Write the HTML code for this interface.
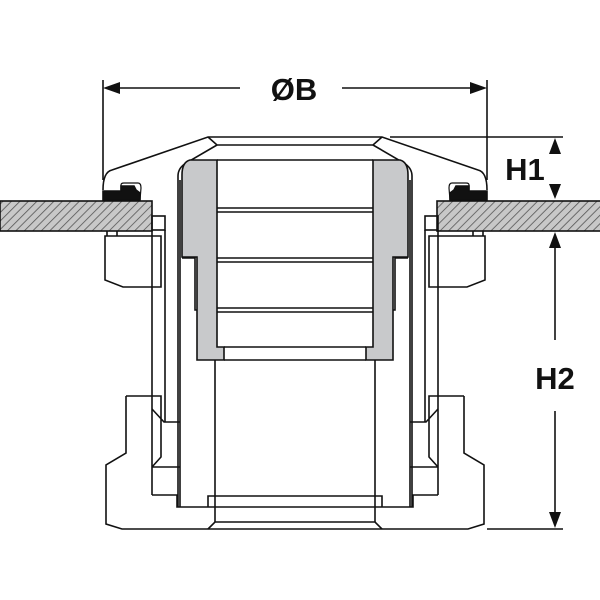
<!DOCTYPE html>
<html><head><style>body{margin:0;background:#fff}svg{display:block}</style></head><body>
<svg width="600" height="600" viewBox="0 0 600 600" xmlns="http://www.w3.org/2000/svg">
<defs>
<pattern id="h" width="6" height="6" patternUnits="userSpaceOnUse" patternTransform="rotate(45)">
<rect width="6" height="6" fill="#c8c8c8"/><line x1="0" y1="0" x2="0" y2="6" stroke="#555" stroke-width="1.6"/>
</pattern>
<g id="half" fill="none" stroke="#111" stroke-width="1.6">
  <path d="M103,190 Q103,172 112,170 L208,137 L295,137"/>
  <path d="M208,137 L217,145 L295,145"/>
  <path d="M217,145 L186,163 Q178,168 178,176 L178,507"/>
  <path d="M180,180 L180,507"/>
  <path d="M217,160 L295,160"/>
  <path d="M190,160 Q182,162 182,175 L182,257 L197,257 L197,360 L224,360 L224,347 L217,347 L217,160 Z" fill="#c8c9cb"/>
  <path d="M182,258 L195,258 L195,310 L197,310"/>
  <path d="M217,208 L295,208 M217,212 L295,212 M217,258 L295,258 M217,262 L295,262 M217,308 L295,308 M217,312 L295,312 M224,347 L295,347 M224,360 L295,360"/>
  <line x1="215" y1="360" x2="215" y2="522"/>
  <path d="M121,190 L121,185 Q121,183 124,183 L138,183 Q141,183 141,188 L140,200" stroke-width="1.2"/>
  <path d="M103,200 L103,191 L121,191 L121,186 L134,186 L136,190 L140,193 L140,200 Z" fill="#111"/>
  <rect x="152" y="216" width="13" height="14"/>
  <line x1="165" y1="230" x2="165" y2="422"/>
  <line x1="152" y1="230" x2="152" y2="495"/>
  <path d="M107,231 L107,236 M117,231 L117,236"/>
  <path d="M105,236 L161,236 L161,287 L123,287 L105,280 Z"/>
  <path d="M126,396 L161,396 L161,457 L152,467 M152,409 L164,422 L180,422 M152,467 L180,467"/>
  <path d="M126,396 L126,453 L106,465 L106,524 L122,529 L295,529"/>
  <path d="M152,495 L177,495 L177,507 L295,507 M208,529 L215,522 L295,522 M208,507 L208,496 L295,496"/>
</g>
</defs>
<rect x="0" y="201" width="152" height="30" fill="url(#h)" stroke="#111" stroke-width="1.6"/>
<rect x="437" y="201" width="170" height="30" fill="url(#h)" stroke="#111" stroke-width="1.6"/>
<use href="#half"/>
<use href="#half" transform="translate(590,0) scale(-1,1)"/>
<g stroke="#111" stroke-width="1.6" fill="#111">
  <line x1="103" y1="80" x2="103" y2="180"/>
  <line x1="487" y1="80" x2="487" y2="180"/>
  <line x1="115" y1="88" x2="240" y2="88"/>
  <line x1="342" y1="88" x2="475" y2="88"/>
  <path d="M103,88 L120,82 L120,94 Z" stroke="none"/>
  <path d="M487,88 L470,82 L470,94 Z" stroke="none"/>
  <line x1="390" y1="137" x2="563" y2="137"/>
  <line x1="487" y1="529" x2="563" y2="529"/>
  <path d="M555,138 L549,154 L561,154 Z" stroke="none"/>
  <path d="M555,199 L549,184 L561,184 Z" stroke="none"/>
  <line x1="555" y1="240" x2="555" y2="340"/>
  <path d="M555,232 L549,248 L561,248 Z" stroke="none"/>
  <line x1="555" y1="411" x2="555" y2="515"/>
  <path d="M555,528 L549,512 L561,512 Z" stroke="none"/>
</g>
<g font-family="Liberation Sans, sans-serif" font-weight="bold" fill="#111">
  <text x="294" y="100" font-size="31" text-anchor="middle">ØB</text>
  <text x="525" y="180" font-size="31" text-anchor="middle">H1</text>
  <text x="555" y="389" font-size="31" text-anchor="middle">H2</text>
</g>
</svg>
</body></html>
